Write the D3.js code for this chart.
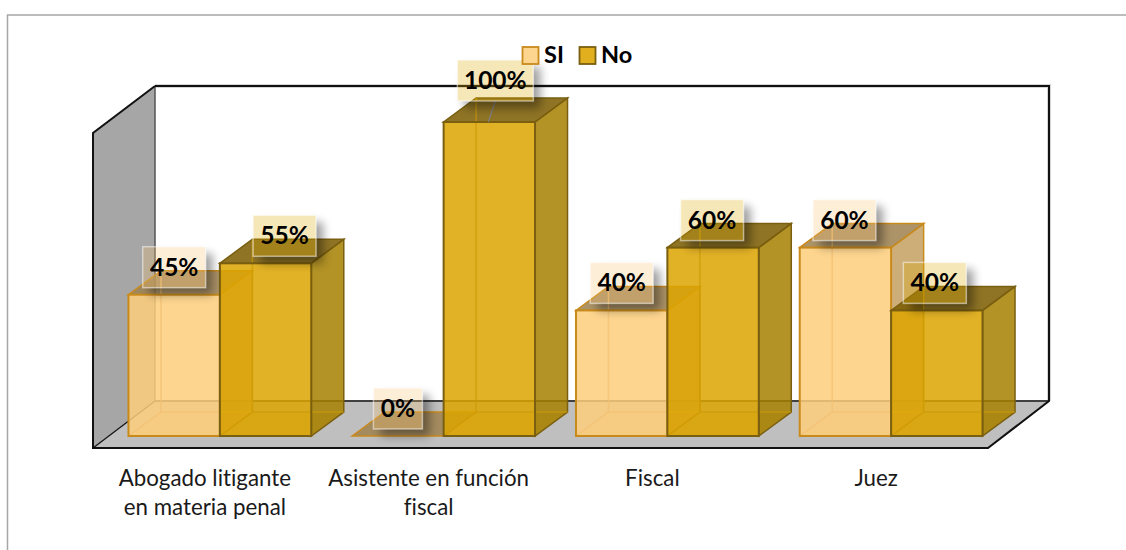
<!DOCTYPE html>
<html>
<head>
<meta charset="utf-8">
<style>
  html, body { margin: 0; background: #fff; }
  svg { display: block; }
  text { font-family: Lato, "Open Sans", sans-serif; fill: #000; font-variant-ligatures: none; }
</style>
<script src="https://cdn.jsdelivr.net/npm/d3@7/dist/d3.min.js"></script>
</head>
<body>
<svg id="chart" width="1126" height="550"></svg>
<script>
const categories = ["Abogado litigante en materia penal", "Asistente en función fiscal", "Fiscal", "Juez"];
const categoryLines = [["Abogado litigante", "en materia penal"], ["Asistente en función", "fiscal"], ["Fiscal"], ["Juez"]];
const seriesNames = ["SI", "No"];
const siValues = [0.45, 0, 0.40, 0.60];
const noValues = [0.55, 1.00, 0.60, 0.40];

// Hand-placed label offsets (px) from the default spot above each bar
const siLabelShift = [[0, 0], [0, 0], [0, 0], [-1, 0]];
const noLabelShift = [[19, 0], [6, -14], [-1, 0], [-2, 0]];

// Oblique projection of the depth axis
const depth = { dx: 32.5, dy: -24 };
const frame = { left: 93, right: 988, floorFront: 448, wallTop: 86, floorBack: 401 };
const wallDepth = { dx: 62, dy: -47 };

const palette = {
  SI: { front: "#fdce7b", side: "#c4a060", top: "#9f814e", edge: "#c98a1c", inner: "#f2bf70", label: "#f8c374" },
  No: { front: "#dda400", side: "#a68000", top: "#7b5c00", edge: "#7a5f10", inner: "#c99a08", label: "#dbaa00" }
};

const svg = d3.select("#chart");
const defs = svg.append("defs");
const blur = defs.append("filter").attr("id", "soft").attr("x", "-40%").attr("y", "-40%").attr("width", "180%").attr("height", "180%");
blur.append("feGaussianBlur").attr("stdDeviation", 5);

const x0 = d3.scaleBand().domain(categories).range([frame.left, frame.right]).paddingInner(0.183).paddingOuter(0.0915);
const x1 = d3.scaleBand().domain(seriesNames).range([0, x0.bandwidth()]);
const y = d3.scaleLinear().domain([0, 1]).range([436, 122]);
const barShift = 15;

// Outer chart border: only the top and left edges show
svg.append("path").attr("d", "M7.5,550V15H1126").attr("fill", "none").attr("stroke", "#a6a6a6").attr("stroke-width", 1.5);

// Walls and floor of the 3D box
const f = frame, w = wallDepth;
const backLeft = f.left + w.dx, backRight = f.right + w.dx - 1;
svg.append("path")
  .attr("d", `M${backLeft},${f.wallTop}H${backRight}V${f.floorBack}`)
  .attr("fill", "none").attr("stroke", "#bbb").attr("stroke-width", 4).attr("opacity", 0.6);
svg.append("path")
  .attr("d", `M${f.left},${f.floorFront}L${f.right},${f.floorFront}L${backRight},${f.floorBack}L${backLeft},${f.floorBack}Z`)
  .attr("fill", "#bfbfbf");
svg.append("path")
  .attr("d", `M${f.left},${f.floorFront - 315}L${backLeft},${f.wallTop}V${f.floorBack}L${f.left},${f.floorFront}Z`)
  .attr("fill", "#a6a6a6");
svg.append("path")
  .attr("d", `M${backLeft},${f.floorBack}H${backRight}`)
  .attr("stroke", "#404040").attr("stroke-width", 2).attr("fill", "none");
svg.append("path")
  .attr("d", `M${backLeft},${f.wallTop}V${f.floorBack}`)
  .attr("stroke", "#555").attr("stroke-width", 1.5).attr("fill", "none");
svg.append("path")
  .attr("d", `M${backLeft},${f.wallTop}H${backRight}V${f.floorBack}L${f.right},${f.floorFront}H${f.left}V${f.floorFront - 315}L${backLeft},${f.wallTop}`)
  .attr("stroke", "#111").attr("stroke-width", 2).attr("fill", "none");
svg.append("path")
  .attr("d", `M${f.left},${f.floorFront}L${backLeft},${f.floorBack}`)
  .attr("stroke", "#111").attr("stroke-width", 1.2).attr("fill", "none");

const rows = [];
categories.forEach((c, i) => {
  rows.push({ cat: c, i, series: "SI", value: siValues[i], shift: siLabelShift[i] });
  rows.push({ cat: c, i, series: "No", value: noValues[i], shift: noLabelShift[i] });
});

const poly = pts => "M" + pts.map(p => p.join(",")).join("L") + "Z";

// One translucent cuboid per value
const bars = svg.append("g").selectAll("g").data(rows).join("g");
bars.each(function (d) {
  const g = d3.select(this), c = palette[d.series];
  const xa = x0(d.cat) + barShift + x1(d.series), xb = xa + x1.bandwidth();
  const yb = y(0), yt = y(d.value);
  const { dx, dy } = depth;

  if (d.value > 0) {
    g.append("path").attr("d", poly([[xa, yb], [xb, yb], [xb + dx, yb + dy], [xa + dx, yb + dy]]))
      .attr("fill", c.front).attr("opacity", 0.3);
    g.append("path").attr("d", poly([[xb, yt], [xb + dx, yt + dy], [xb + dx, yb + dy], [xb, yb]]))
      .attr("fill", c.side).attr("fill-opacity", 0.85).attr("stroke", c.edge).attr("stroke-width", 1.5);
  }
  g.append("path").attr("d", poly([[xa, yt], [xb, yt], [xb + dx, yt + dy], [xa + dx, yt + dy]]))
    .attr("fill", c.top).attr("fill-opacity", 0.85).attr("stroke", c.edge).attr("stroke-width", 1.5);
  if (d.value > 0) {
    g.append("rect").attr("x", xa).attr("y", yt).attr("width", xb - xa).attr("height", yb - yt)
      .attr("fill", c.front).attr("fill-opacity", 0.85);
    // Hidden edges seen through the front face
    g.append("path")
      .attr("d", `M${xa + dx},${yt + dy}V${yb + dy}H${xb + dx}M${xa + dx},${yb + dy}L${xa},${yb}`)
      .attr("fill", "none").attr("stroke", c.inner).attr("stroke-width", 1.5).attr("opacity", 0.7);
    g.append("rect").attr("x", xa).attr("y", yt).attr("width", xb - xa).attr("height", yb - yt)
      .attr("fill", "none").attr("stroke", c.edge).attr("stroke-width", 2);
  }
});

// Category labels on a bottom axis, wrapped by hand
const axis = svg.append("g").attr("transform", "translate(0,466)")
  .call(d3.axisBottom(d3.scaleBand().domain(categories).range([frame.left, frame.right])).tickSize(0).tickPadding(0));
axis.select(".domain").remove();
axis.selectAll(".tick text").each(function (c) {
  const t = d3.select(this).text(null).attr("y", 0).attr("dy", null)
    .style("font-family", "Lato, sans-serif").style("font-size", "22.3px").style("fill", "#1a1a1a");
  categoryLines[categories.indexOf(c)].forEach((line, k) => {
    t.append("tspan").attr("x", 0).attr("y", 20 + k * 29).text(line);
  });
});

// Value labels: tinted box, with a soft shadow that falls only outside the box
const boxH = 41;
const labels = svg.append("g").selectAll("g").data(rows).join("g");
labels.each(function (d, idx) {
  const g = d3.select(this);
  const txt = d3.format(".0%")(d.value);
  const boxW = txt.length === 4 ? 76 : txt.length === 3 ? 63 : 49;
  const cx = x0(d.cat) + barShift + x1(d.series) + x1.bandwidth() / 2 + d.shift[0];
  const bottom = y(d.value) - 7 + d.shift[1];
  const top = bottom - boxH;
  const left = cx - boxW / 2;
  defs.append("clipPath").attr("id", `outside-${idx}`).append("path")
    .attr("clip-rule", "evenodd")
    .attr("d", `M0,0H1126V550H0ZM${left},${top}h${boxW}v${boxH}h${-boxW}Z`);
  if (txt === "100%") {
    g.append("line").attr("x1", cx).attr("y1", bottom).attr("x2", cx - 7).attr("y2", y(d.value))
      .attr("stroke", "#7f7f7f").attr("stroke-width", 1.2);
  }
  g.append("g").attr("clip-path", `url(#outside-${idx})`)
    .append("rect").attr("x", left + 7).attr("y", top + 7).attr("width", boxW).attr("height", boxH)
    .attr("fill", "#000").attr("opacity", 0.38).attr("filter", "url(#soft)");
  g.append("rect").attr("x", left).attr("y", top).attr("width", boxW).attr("height", boxH)
    .attr("fill", palette[d.series].label).attr("fill-opacity", 0.28)
    .attr("stroke", "#fff").attr("stroke-opacity", 0.5).attr("stroke-width", 1.5);
  g.append("text").attr("x", cx).attr("y", top + 29).attr("text-anchor", "middle")
    .style("font-weight", 700).style("font-size", "24.5px").text(txt);
});

// Legend
const legendX = [522, 579];
const legend = svg.append("g").selectAll("g").data(seriesNames).join("g")
  .attr("transform", (d, i) => `translate(${legendX[i]},47)`);
legend.append("rect").attr("x", 0.5).attr("y", 0).attr("width", 16).attr("height", 17)
  .attr("fill", d => d === "SI" ? "#fdd58f" : "#e2b01f")
  .attr("stroke", d => palette[d].edge).attr("stroke-width", 1.8);
legend.append("text").attr("x", 22).attr("y", 16).style("font-weight", 700).style("font-size", "23.5px").text(d => d);
</script>
</body>
</html>
